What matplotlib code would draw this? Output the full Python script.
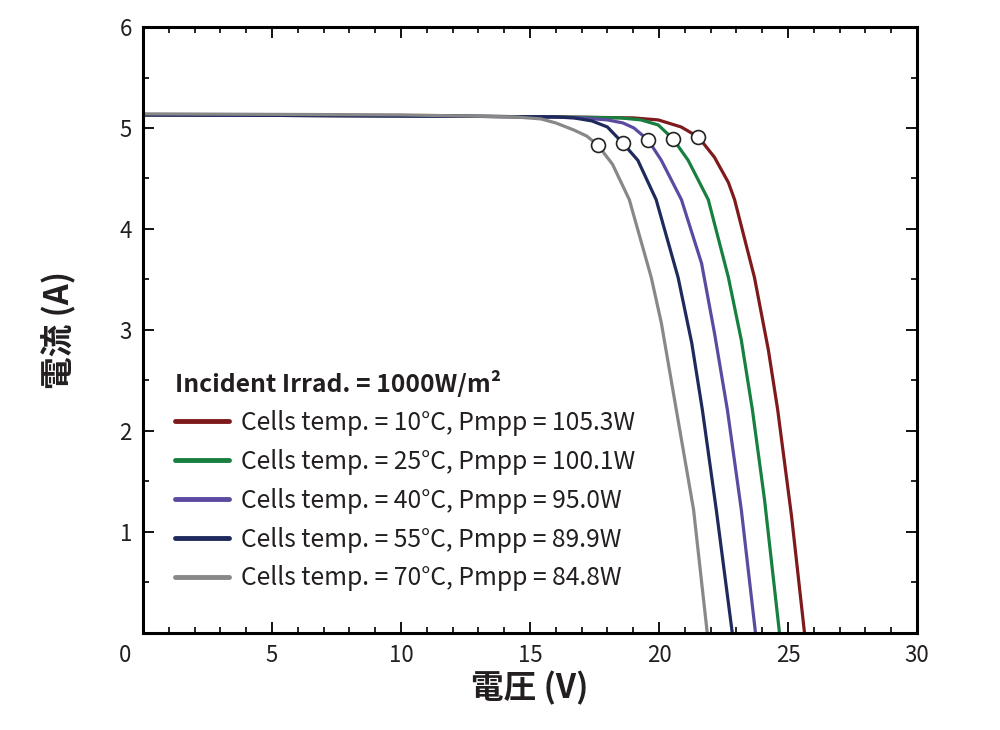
import matplotlib.pyplot as plt
from matplotlib.ticker import MultipleLocator

plt.rcParams['font.family'] = ['Noto Sans CJK JP', 'DejaVu Sans']

# I-V curves, one per cell temperature
v_10 = [0, 10, 16, 19.0, 19.97, 20.86, 21.53, 22.15, 22.69, 22.93, 23.70, 24.24, 24.6, 25.14, 25.64]
i_10 = [5.13, 5.12, 5.11, 5.10, 5.08, 5.01, 4.91, 4.71, 4.46, 4.29, 3.52, 2.80, 2.21, 1.15, 0]
v_25 = [0, 10, 16, 18.5, 19.3, 19.97, 20.55, 21.13, 21.91, 22.69, 23.19, 23.62, 24.09, 24.67]
i_25 = [5.13, 5.12, 5.11, 5.10, 5.08, 5.03, 4.89, 4.68, 4.29, 3.52, 2.90, 2.21, 1.32, 0]
v_40 = [0, 10, 15.5, 17.0, 18.0, 18.6, 19.03, 19.58, 20.09, 20.87, 21.65, 22.15, 22.65, 23.19, 23.74]
i_40 = [5.13, 5.12, 5.11, 5.10, 5.08, 5.05, 5.0, 4.88, 4.68, 4.29, 3.66, 2.97, 2.21, 1.22, 0]
v_55 = [0, 10, 16.0, 16.7, 17.4, 18.0, 18.6, 19.18, 19.89, 20.74, 21.27, 21.68, 22.22, 22.84]
i_55 = [5.13, 5.12, 5.11, 5.10, 5.07, 5.01, 4.85, 4.68, 4.29, 3.52, 2.87, 2.21, 1.22, 0]
v_70 = [0, 10, 14.4, 15.42, 16.0, 16.7, 17.2, 17.63, 18.2, 18.85, 19.70, 20.09, 20.67, 21.34, 21.87]
i_70 = [5.14, 5.13, 5.11, 5.09, 5.05, 4.98, 4.92, 4.83, 4.64, 4.29, 3.52, 3.07, 2.21, 1.22, 0]

temps = [10, 25, 40, 55, 70]
pmpp = [105.3, 100.1, 95.0, 89.9, 84.8]
colors = ['#7f1a1c', '#178040', '#5b4aa0', '#1f2a5c', '#888888']

# maximum power points
v_mpp = [21.53, 20.55, 19.58, 18.6, 17.63]
i_mpp = [4.91, 4.89, 4.88, 4.85, 4.83]

curves = [(v_10, i_10), (v_25, i_25), (v_40, i_40), (v_55, i_55), (v_70, i_70)]

fig = plt.figure(figsize=(10, 7.3), dpi=100)
ax = fig.add_axes([0.143, 0.133, 0.774, 0.830])

for (v, i), t, p, c in zip(curves, temps, pmpp, colors):
    ax.plot(v, i, color=c, lw=2.3, solid_capstyle='round', solid_joinstyle='round',
            label='Cells temp. = %d°C, Pmpp = %.1fW' % (t, p))

ax.plot(v_mpp, i_mpp, 'o', ms=10, mfc='white', mec='#222222', mew=1.2, zorder=5)

ax.set_xlim(0, 30)
ax.set_ylim(0, 6)
ax.xaxis.set_minor_locator(MultipleLocator(1))
ax.yaxis.set_minor_locator(MultipleLocator(0.5))
ax.set_xticks([5, 10, 15, 20, 25, 30])
ax.set_yticks([1, 2, 3, 4, 5, 6])
ax.tick_params(which='both', direction='in', top=True, right=True, colors='black',
               labelcolor='#231f20', labelsize=16)
ax.tick_params(which='major', length=8, width=1.3, pad=8)
ax.tick_params(which='minor', length=4, width=1.2)
for s in ax.spines.values():
    s.set_linewidth(2.2)

ax.annotate('0', xy=(0, 0), xycoords='axes fraction', xytext=(-13, -8),
            textcoords='offset points', ha='center', va='top', fontsize=16, color='#231f20')

ax.set_xlabel('電圧 (V)', fontsize=23.5, fontweight='bold', color='#231f20', labelpad=3)
ax.set_ylabel('電流 (A)', fontsize=23.5, fontweight='bold', color='#231f20', labelpad=31)

leg = ax.legend(loc='upper left', bbox_to_anchor=(0.028, 0.45), frameon=False,
                title='Incident Irrad. = 1000W/m²', alignment='left',
                fontsize=17.8, handlelength=2.2, handletextpad=0.48, labelspacing=0.52,
                borderaxespad=0)
leg.get_title().set_fontweight('bold')
leg.get_title().set_fontsize(17.8)
leg.get_title().set_color('#231f20')
for txt in leg.get_texts():
    txt.set_color('#231f20')
for h in leg.legend_handles:
    h.set_linewidth(3.5)

fig.savefig('out.png', dpi=100)
